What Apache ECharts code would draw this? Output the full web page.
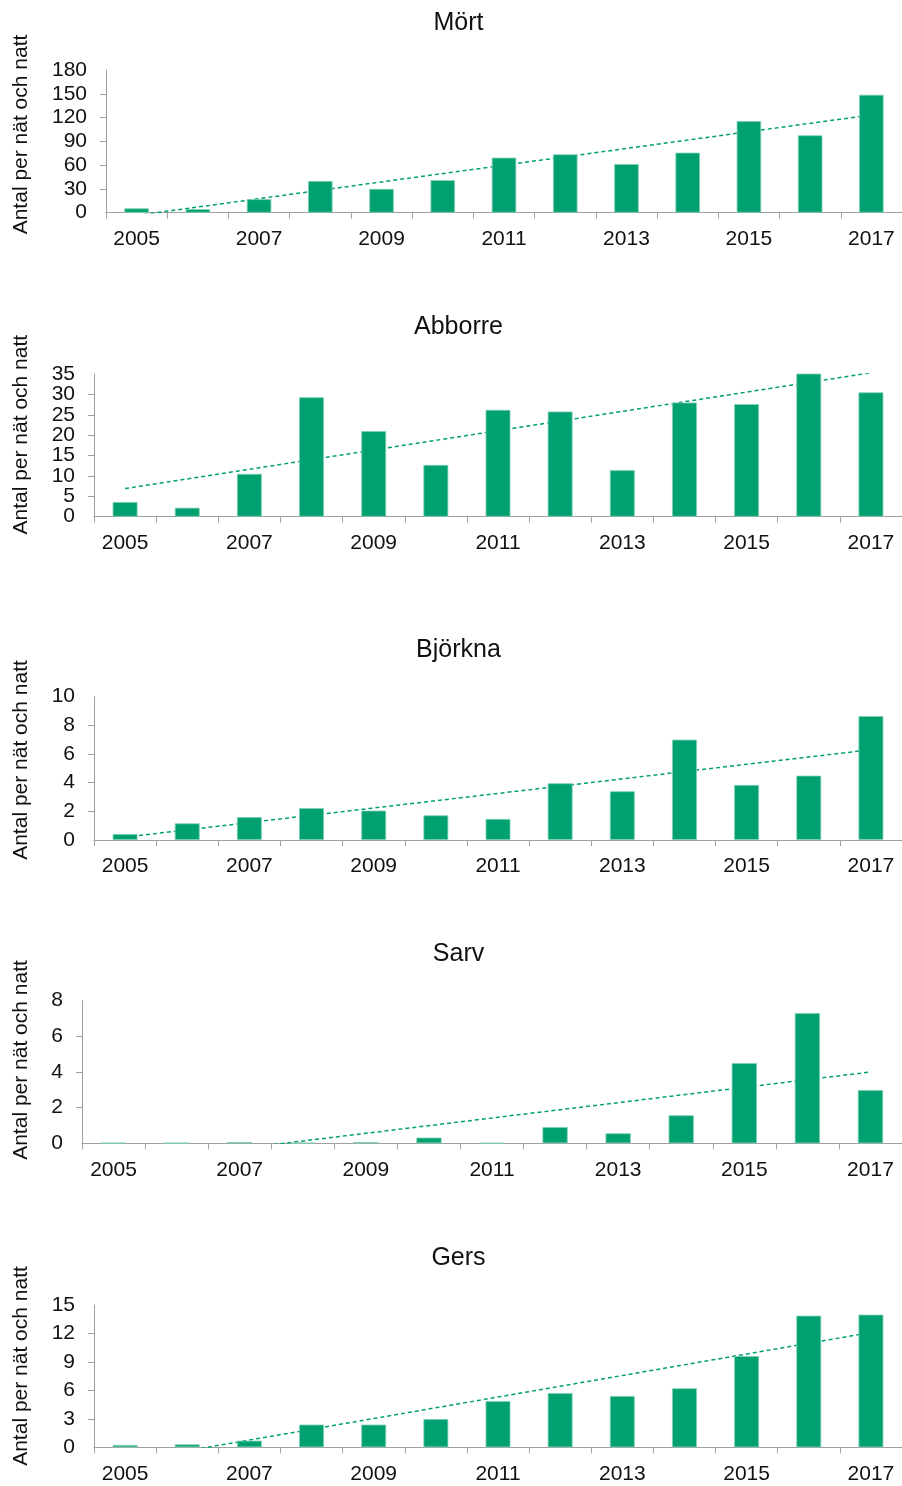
<!DOCTYPE html>
<html>
<head>
<meta charset="utf-8">
<script src="https://cdn.jsdelivr.net/npm/echarts@6/dist/echarts.min.js"></script>
<style>
  html, body { margin: 0; padding: 0; background: #ffffff; }
  #chart { width: 902px; height: 1486px; }
</style>
</head>
<body>
<div id="chart"></div>
<script>
// Catch per net and night, 2005–2017, five species
const years = ['2005','2006','2007','2008','2009','2010','2011','2012','2013','2014','2015','2016','2017'];

const mort    = [5.5, 4.5, 17, 40, 30, 41, 69.4, 73.6, 61.4, 75.7, 115.5, 97.6, 148.8];
const abborre = [3.6, 2.2, 10.5, 29.3, 21.0, 12.7, 26.2, 25.8, 11.4, 28.0, 27.6, 47, 30.5];
const bjorkna = [0.42, 1.16, 1.6, 2.23, 2.05, 1.72, 1.47, 3.96, 3.4, 7.0, 3.84, 4.49, 8.65];
const sarv    = [0.02, 0.02, 0.07, 0.03, 0.07, 0.32, 0.01, 0.91, 0.56, 1.57, 4.5, 7.31, 2.99];
const gers    = [0.25, 0.31, 0.7, 2.39, 2.39, 2.98, 4.88, 5.72, 5.41, 6.22, 9.62, 13.87, 13.98];

// Linear trend line: value at 2005 and at 2017
const mortTrend    = [-3.4, 123.3];
const abborreTrend = [6.9, 35.3];
const bjorknaTrend = [0.2, 6.3];
const sarvTrend    = [-1.16, 4.0];
const gersTrend    = [-1.5, 12.1];

const speciesNames = ['Mört', 'Abborre', 'Björkna', 'Sarv', 'Gers'];
const yMax  = [180, 35, 10, 8, 15];
const yStep = [30, 5, 2, 2, 3];
const yTitle = 'Antal per nät och natt';

const seriesValues = [mort, abborre, bjorkna, sarv, gers];
const trendValues  = [mortTrend, abborreTrend, bjorknaTrend, sarvTrend, gersTrend];

// Panel geometry
const panelLeft   = [106, 94, 94, 82, 94];
const panelTop    = [70, 374, 696.7, 1000.7, 1305];
const panelHeight = [142.7, 142.7, 143.3, 142.6, 142.3];
const yTitleCenter = [134.5, 434.7, 760, 1060, 1366];

const GREEN = '#00a070';
const AXIS = '#a0a0a0';
const FONT = '"Liberation Sans", Arial, sans-serif';
const labelStyle = { margin: 19, color: '#111', fontSize: 21, fontFamily: FONT };

const grids = [], xAxes = [], yAxes = [], series = [], graphics = [];

seriesValues.forEach((vals, i) => {
  grids.push({
    left: panelLeft[i], top: panelTop[i],
    width: 902 - panelLeft[i], height: panelHeight[i],
    containLabel: false
  });
  xAxes.push({
    type: 'category', gridIndex: i, data: years, boundaryGap: true,
    axisLine: { lineStyle: { color: AXIS, width: 1 } },
    axisTick: { show: true, interval: 0, length: 6, lineStyle: { color: AXIS } },
    axisLabel: { interval: 1, margin: 16, color: '#111', fontSize: 21, fontFamily: FONT,
                 hideOverlap: false }
  });
  // value axis: line, ticks and the inner labels
  yAxes.push({
    type: 'value', gridIndex: i, position: 'left', min: 0, max: yMax[i], interval: yStep[i],
    axisLine: { show: true, lineStyle: { color: AXIS, width: 1 } },
    axisTick: { show: true, length: 6, lineStyle: { color: AXIS } },
    axisLabel: Object.assign({ showMinLabel: false, showMaxLabel: false }, labelStyle),
    splitLine: { show: false }
  });
  // companion axis on the same scale carrying the end labels (0 and max)
  yAxes.push({
    type: 'value', gridIndex: i, position: 'left', offset: 0,
    min: 0, max: yMax[i], interval: yMax[i],
    axisLine: { show: false }, axisTick: { show: false },
    axisLabel: Object.assign({ showMinLabel: true, showMaxLabel: true }, labelStyle),
    splitLine: { show: false }
  });
  series.push({
    type: 'line', xAxisIndex: i, yAxisIndex: 2 * i, z: 1,
    data: [[0, trendValues[i][0]], [years.length - 1, trendValues[i][1]]],
    showSymbol: false, symbol: 'none', clip: true, silent: true,
    lineStyle: { color: GREEN, width: 1.5, type: [4, 3] }
  });
  series.push({
    type: 'bar', xAxisIndex: i, yAxisIndex: 2 * i, z: 2,
    data: vals, barWidth: '40%', clip: true,
    itemStyle: { color: GREEN, borderColor: '#7fcfb3', borderWidth: 0.8 }
  });
  graphics.push({
    type: 'text', x: 458.5, y: panelTop[i] - 46.5,
    style: { text: speciesNames[i], font: '25px ' + FONT, fill: '#111',
             textAlign: 'center', textVerticalAlign: 'middle' }
  });
  graphics.push({
    type: 'text', x: 21, y: yTitleCenter[i], rotation: Math.PI / 2,
    style: { text: yTitle, font: '21px ' + FONT, fill: '#111',
             textAlign: 'center', textVerticalAlign: 'middle' }
  });
});

const chart = echarts.init(document.getElementById('chart'), null, { renderer: 'canvas' });
chart.setOption({
  animation: false,
  backgroundColor: '#ffffff',
  grid: grids,
  xAxis: xAxes,
  yAxis: yAxes,
  series: series,
  graphic: graphics
});
</script>
</body>
</html>
